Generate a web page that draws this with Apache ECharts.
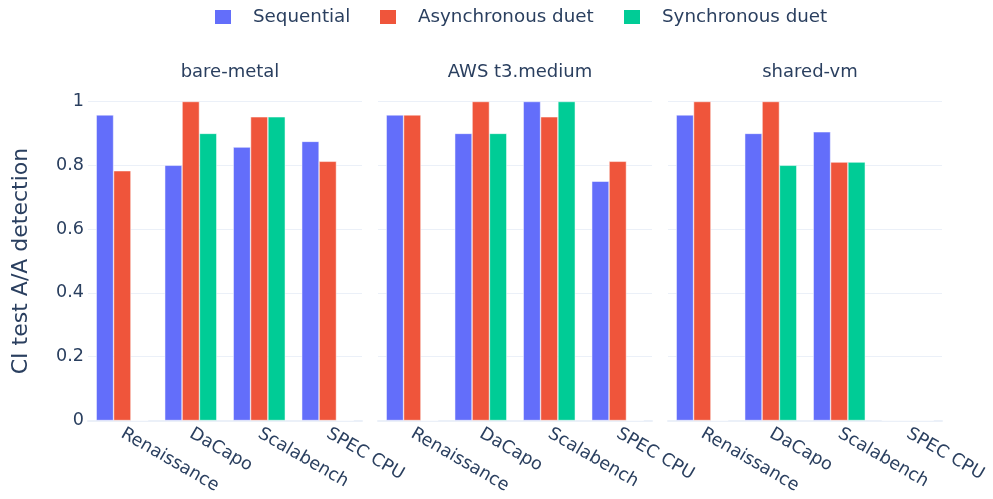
<!DOCTYPE html>
<html>
<head>
<meta charset="utf-8">
<script src="https://cdn.jsdelivr.net/npm/echarts@6/dist/echarts.min.js"></script>
<style>html,body{margin:0;padding:0;background:#fff}#c{width:993px;height:499px}</style>
</head>
<body>
<div id="c"></div>
<script>
const categories = ["Renaissance", "DaCapo", "Scalabench", "SPEC CPU"];
const panels = ["bare-metal", "AWS t3.medium", "shared-vm"];
const seriesNames = ["Sequential", "Asynchronous duet", "Synchronous duet"];
const colors = ["#636efa", "#EF553B", "#00cc96"];

// values per panel: [Renaissance, DaCapo, Scalabench, SPEC CPU]
const bareSequential = [0.958, 0.8, 0.857, 0.875];
const bareAsync = [0.783, 1.0, 0.952, 0.8125];
const bareSync = [0, 0.9, 0.952, 0];

const awsSequential = [0.958, 0.9, 1.0, 0.75];
const awsAsync = [0.958, 1.0, 0.952, 0.8125];
const awsSync = [0, 0.9, 1.0, 0];

const vmSequential = [0.958, 0.9, 0.905, 0];
const vmAsync = [1.0, 1.0, 0.81, 0];
const vmSync = [0, 0.8, 0.81, 0];

const yTicks = [0, 0.2, 0.4, 0.6, 0.8, 1];

const panelData = [
  [bareSequential, bareAsync, bareSync],
  [awsSequential, awsAsync, awsSync],
  [vmSequential, vmAsync, vmSync]
];

const FONT = "DejaVu Sans";
const TXT = "#2a3f5f";
const GRIDC = "#EBF0F8";
const gridLefts = [88, 378, 668];
const gridW = 274;

const grids = [], xAxes = [], yAxes = [], series = [], titles = [];
panels.forEach((p, i) => {
  grids.push({left: gridLefts[i], width: gridW, top: 101.5, bottom: 78.5, containLabel: false});
  xAxes.push({
    type: 'category', gridIndex: i, data: categories,
    axisLine: {show: true, lineStyle: {color: GRIDC, width: 2}},
    axisTick: {show: false},
    axisLabel: {rotate: -30, margin: 12, interval: 0, color: TXT, fontFamily: FONT, fontSize: 17.6}
  });
  yAxes.push({
    type: 'value', gridIndex: i, min: yTicks[0], max: yTicks[yTicks.length - 1], interval: 0.2,
    axisLine: {show: false}, axisTick: {show: false},
    splitLine: {show: true, lineStyle: {color: GRIDC, width: 1}},
    axisLabel: {show: i === 0, margin: 4, color: TXT, fontFamily: FONT, fontSize: 17.6},
    name: i === 0 ? 'CI test A/A detection' : '',
    nameLocation: 'middle', nameGap: 56,
    nameTextStyle: {color: TXT, fontFamily: FONT, fontSize: 22}
  });
  seriesNames.forEach((s, k) => {
    series.push({
      type: 'bar', name: s, xAxisIndex: i, yAxisIndex: i,
      data: panelData[i][k],
      barGap: '0%', barCategoryGap: '24%',
      itemStyle: {color: colors[k], borderColor: '#ffffff', borderWidth: 0.5},
      emphasis: {disabled: true}
    });
  });
  titles.push({
    text: p, left: gridLefts[i] + gridW / 2, top: 58, textAlign: 'center',
    textStyle: {color: TXT, fontFamily: FONT, fontSize: 18, fontWeight: 'normal'}
  });
});

const legendLefts = [208, 373, 617];
const legends = seriesNames.map((s, k) => ({
  data: [s], left: legendLefts[k], top: 3, icon: 'rect',
  itemWidth: 18, itemHeight: 16,
  textStyle: {color: TXT, fontFamily: FONT, fontSize: 18.3, padding: [0, 0, 0, 16]},
  selectedMode: false
}));

const chart = echarts.init(document.getElementById('c'), null, {renderer: 'canvas'});
chart.setOption({
  animation: false,
  backgroundColor: '#ffffff',
  color: colors,
  title: titles,
  legend: legends,
  grid: grids,
  xAxis: xAxes,
  yAxis: yAxes,
  series: series
});
</script>
</body>
</html>
